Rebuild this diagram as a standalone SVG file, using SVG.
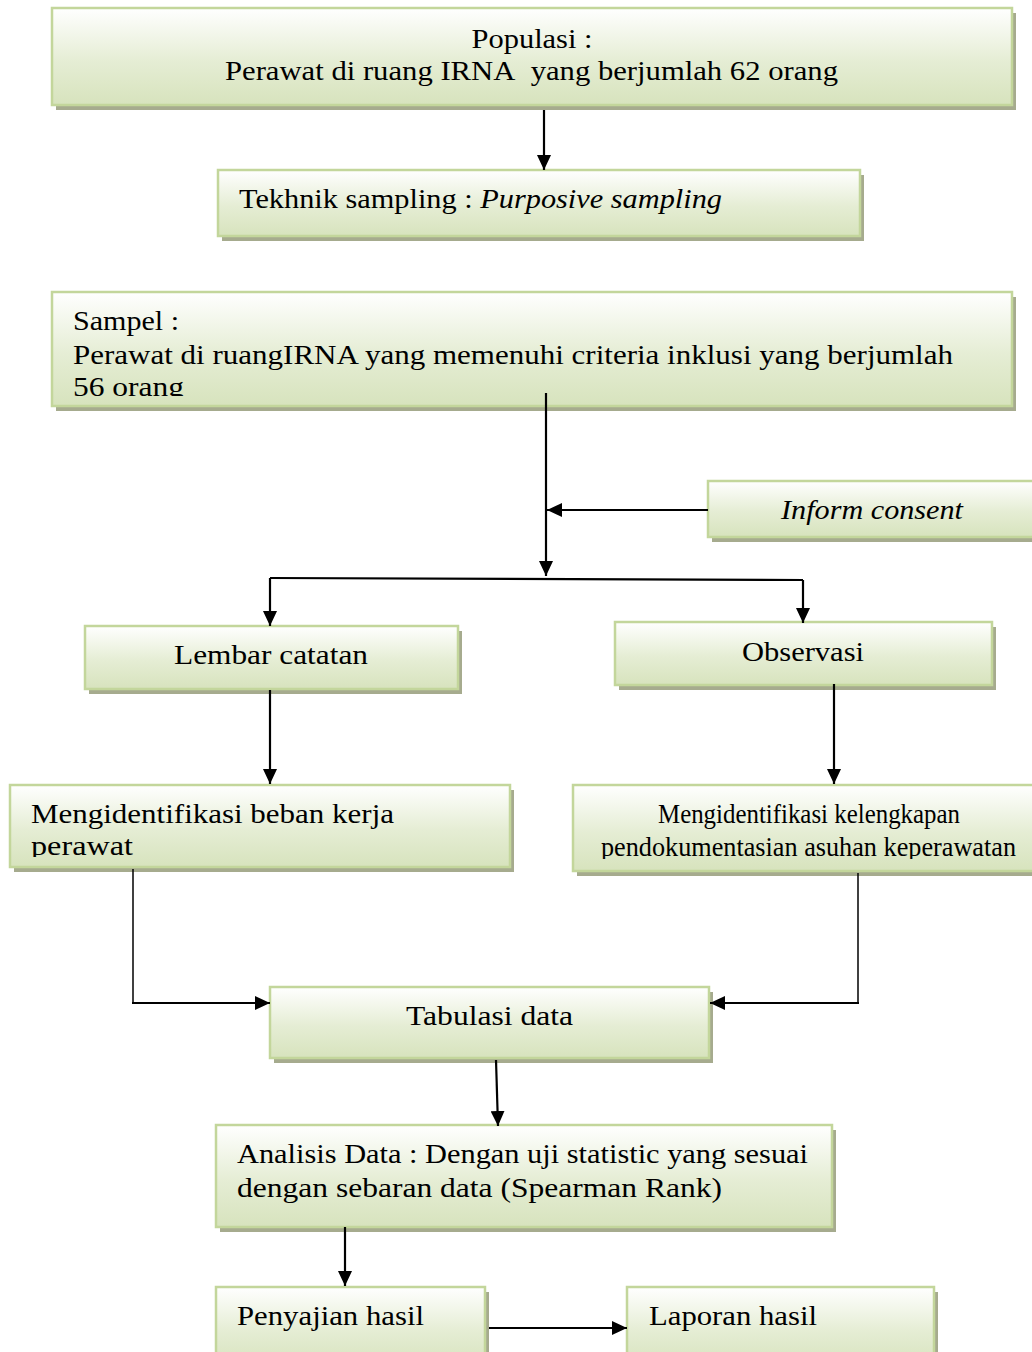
<svg xmlns="http://www.w3.org/2000/svg" width="1032" height="1352" viewBox="0 0 1032 1352">
<defs>
<linearGradient id="g" x1="0" y1="0" x2="0" y2="1">
<stop offset="0" stop-color="#ffffff"/>
<stop offset="0.55" stop-color="#e5edd4"/>
<stop offset="1" stop-color="#d7e3bd"/>
</linearGradient>
<marker id="ah" markerUnits="userSpaceOnUse" markerWidth="16" markerHeight="14" viewBox="0 0 16 14" refX="15" refY="7" orient="auto">
<path d="M0,0 L15,7 L0,14 Z" fill="#000"/>
</marker>
<clipPath id="c3"><rect x="52" y="292" width="960" height="104"/></clipPath>
<clipPath id="c8"><rect x="10" y="785" width="500" height="72"/></clipPath>
<clipPath id="c9"><rect x="573" y="785" width="470" height="74"/></clipPath>
</defs>
<style>
.sh{fill:#a6ab8e}
.bx{fill:url(#g);stroke:#c3d69b;stroke-width:2.5}
.t{font-family:"Liberation Serif","DejaVu Serif",serif;font-size:28px;fill:#000}
.it{font-style:italic}
.cn{stroke:#000;stroke-width:2.2;fill:none}
.ar{marker-end:url(#ah)}
.thin{stroke-width:1.5}
</style>

<g id="populasi">
<rect class="sh" x="56" y="13" width="960" height="97"/>
<rect class="bx" x="52" y="8" width="960" height="97"/>
<text class="t" x="532" y="48" text-anchor="middle" textLength="121" lengthAdjust="spacingAndGlyphs">Populasi :</text>
<text class="t" x="225" y="80" textLength="613" lengthAdjust="spacingAndGlyphs">Perawat di ruang IRNA&#160; yang berjumlah 62 orang</text>
</g>

<g id="tekhnik">
<rect class="sh" x="222" y="175" width="642" height="66"/>
<rect class="bx" x="218" y="170" width="642" height="66"/>
<text class="t" x="239" y="208" textLength="483" lengthAdjust="spacingAndGlyphs">Tekhnik sampling : <tspan class="it">Purposive sampling</tspan></text>
</g>

<g id="sampel">
<rect class="sh" x="56" y="297" width="960" height="114"/>
<rect class="bx" x="52" y="292" width="960" height="114"/>
<g clip-path="url(#c3)">
<text class="t" x="73" y="330" textLength="106" lengthAdjust="spacingAndGlyphs">Sampel :</text>
<text class="t" x="73" y="364" textLength="880" lengthAdjust="spacingAndGlyphs">Perawat di ruangIRNA yang memenuhi criteria inklusi yang berjumlah</text>
<text class="t" x="73" y="396" textLength="111" lengthAdjust="spacingAndGlyphs">56 orang</text>
</g>
</g>

<g id="inform">
<rect class="sh" x="712" y="486" width="330" height="56"/>
<rect class="bx" x="708" y="481" width="330" height="56"/>
<text class="t it" x="781" y="519" textLength="182" lengthAdjust="spacingAndGlyphs">Inform consent</text>
</g>

<g id="lembar">
<rect class="sh" x="89" y="631" width="373" height="63"/>
<rect class="bx" x="85" y="626" width="373" height="63"/>
<text class="t" x="174" y="664" textLength="194" lengthAdjust="spacingAndGlyphs">Lembar catatan</text>
</g>

<g id="observasi">
<rect class="sh" x="619" y="627" width="377" height="63"/>
<rect class="bx" x="615" y="622" width="377" height="63"/>
<text class="t" x="742" y="661" textLength="122" lengthAdjust="spacingAndGlyphs">Observasi</text>
</g>

<g id="beban">
<rect class="sh" x="14" y="790" width="500" height="82"/>
<rect class="bx" x="10" y="785" width="500" height="82"/>
<g clip-path="url(#c8)">
<text class="t" x="31" y="823" textLength="363" lengthAdjust="spacingAndGlyphs">Mengidentifikasi beban kerja</text>
<text class="t" x="31" y="855" textLength="102" lengthAdjust="spacingAndGlyphs">perawat</text>
</g>
</g>

<g id="kelengkapan">
<rect class="sh" x="577" y="790" width="470" height="86"/>
<rect class="bx" x="573" y="785" width="470" height="86"/>
<g clip-path="url(#c9)">
<text class="t" x="658" y="823" textLength="302" lengthAdjust="spacingAndGlyphs">Mengidentifikasi kelengkapan</text>
<text class="t" x="601" y="856" textLength="415" lengthAdjust="spacingAndGlyphs">pendokumentasian asuhan keperawatan</text>
</g>
</g>

<g id="tabulasi">
<rect class="sh" x="274" y="992" width="439" height="71"/>
<rect class="bx" x="270" y="987" width="439" height="71"/>
<text class="t" x="406" y="1025" textLength="167" lengthAdjust="spacingAndGlyphs">Tabulasi data</text>
</g>

<g id="analisis">
<rect class="sh" x="220" y="1130" width="616" height="102"/>
<rect class="bx" x="216" y="1125" width="616" height="102"/>
<text class="t" x="237" y="1163" textLength="571" lengthAdjust="spacingAndGlyphs">Analisis Data : Dengan uji statistic yang sesuai</text>
<text class="t" x="237" y="1197" textLength="485" lengthAdjust="spacingAndGlyphs">dengan sebaran data (Spearman Rank)</text>
</g>

<g id="penyajian">
<rect class="sh" x="220" y="1292" width="269" height="80"/>
<rect class="bx" x="216" y="1287" width="269" height="80"/>
<text class="t" x="237" y="1325" textLength="187" lengthAdjust="spacingAndGlyphs">Penyajian hasil</text>
</g>

<g id="laporan">
<rect class="sh" x="631" y="1292" width="307" height="80"/>
<rect class="bx" x="627" y="1287" width="307" height="80"/>
<text class="t" x="649" y="1325" textLength="168" lengthAdjust="spacingAndGlyphs">Laporan hasil</text>
</g>

<g id="connectors">
<path class="cn ar" d="M544,110 L544,170"/>
<path class="cn ar" d="M546,393 L546,576"/>
<path class="cn ar" d="M708,510 L547,510"/>
<path class="cn" d="M270,578 L803,580"/>
<path class="cn ar" d="M270,578 L270,626"/>
<path class="cn ar" d="M803,580 L803,623"/>
<path class="cn ar" d="M270,690 L270,784"/>
<path class="cn ar" d="M834,684 L834,784"/>
<path class="cn thin" d="M133,869 L133,1003"/>
<path class="cn ar" d="M132,1003 L270,1003"/>
<path class="cn thin" d="M858,873 L858,1003"/>
<path class="cn ar" d="M859,1003 L710,1003"/>
<path class="cn ar" d="M496,1060 L498,1126"/>
<path class="cn ar" d="M345,1227 L345,1286"/>
<path class="cn ar" d="M489,1328 L627,1328"/>
</g>
</svg>
